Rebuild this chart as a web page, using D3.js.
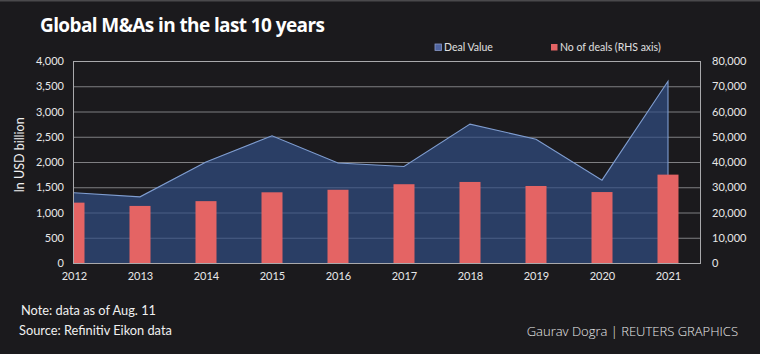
<!DOCTYPE html>
<html>
<head>
<meta charset="utf-8">
<script src="https://cdn.jsdelivr.net/npm/d3@7"></script>
<style>
html,body{margin:0;padding:0;background:#1b1a1d;}
svg{display:block;}
</style>
</head>
<body>
<svg id="chart" width="760" height="354"></svg>
<script>
const years = ["2012","2013","2014","2015","2016","2017","2018","2019","2020","2021"];
const dealValue = [1390, 1310, 2000, 2520, 1980, 1910, 2750, 2450, 1640, 3600];
const dealCount = [23900, 22600, 24500, 28000, 29000, 31200, 32100, 30500, 28100, 35000];
const leftTicks = [0, 500, 1000, 1500, 2000, 2500, 3000, 3500, 4000];
const rightTicks = [0, 10000, 20000, 30000, 40000, 50000, 60000, 70000, 80000];

const W = 760, H = 354;
const plot = {left: 73, right: 701, top: 61, bottom: 263};
const svg = d3.select("#chart");
const fontBody = "Lato, 'Open Sans', sans-serif";

svg.append("rect").attr("width", W).attr("height", H).attr("fill", "#1b1a1d");
svg.append("rect").attr("width", W).attr("height", 1.5).attr("fill", "#4a494c");

const x = d3.scalePoint().domain(years).range([74, 668]);
const yL = d3.scaleLinear().domain([0, 4000]).range([plot.bottom, plot.top]);
const yR = d3.scaleLinear().domain([0, 80000]).range([plot.bottom, plot.top]);

svg.append("defs").append("clipPath").attr("id", "clip")
  .append("rect").attr("x", plot.left).attr("y", plot.top)
  .attr("width", plot.right - plot.left).attr("height", plot.bottom - plot.top);

// gridlines
svg.append("g").selectAll("line").data(leftTicks).join("line")
  .attr("x1", plot.left).attr("x2", plot.right)
  .attr("y1", d => yL(d) + 0.5).attr("y2", d => yL(d) + 0.5)
  .attr("stroke", "#7f7f82").attr("stroke-width", 1.2);

const data = years.map((y, i) => ({year: y, v: dealValue[i], n: dealCount[i]}));

const g = svg.append("g").attr("clip-path", "url(#clip)");

// area
const area = d3.area().x(d => x(d.year)).y0(yL(0)).y1(d => yL(d.v));
g.append("path").datum(data).attr("d", area)
  .attr("fill", "#324f87").attr("fill-opacity", 0.68);

// line on top + right edge
const line = d3.line().x(d => x(d.year)).y(d => yL(d.v));
const last = data[data.length - 1];
g.append("path").datum(data)
  .attr("d", line(data) + "L" + x(last.year) + "," + yL(0))
  .attr("fill", "none").attr("stroke", "#7f9dd0").attr("stroke-width", 1.1);

// bars
const bw = 21;
g.selectAll("rect.bar").data(data).join("rect").attr("class", "bar")
  .attr("x", d => x(d.year) - bw / 2).attr("width", bw)
  .attr("y", d => yR(d.n)).attr("height", d => yR(0) - yR(d.n))
  .attr("fill", "#e46464");

// plot border
svg.append("rect").attr("x", plot.left + 0.5).attr("y", plot.top + 0.5)
  .attr("width", plot.right - plot.left - 1).attr("height", plot.bottom - plot.top)
  .attr("fill", "none").attr("stroke", "#a9a9ac").attr("stroke-width", 1);

// axes
const fmt = d3.format(",");
const axL = svg.append("g").attr("transform", `translate(${plot.left},0)`)
  .call(d3.axisLeft(yL).tickValues(leftTicks).tickFormat(fmt).tickSize(0).tickPadding(9));
const axR = svg.append("g").attr("transform", `translate(${plot.right},0)`)
  .call(d3.axisRight(yR).tickValues(rightTicks).tickFormat(fmt).tickSize(0).tickPadding(11));
const axB = svg.append("g").attr("transform", `translate(0,${plot.bottom})`)
  .call(d3.axisBottom(x).tickSize(0).tickPadding(9));
[axL, axR, axB].forEach(a => {
  a.select(".domain").remove();
  a.selectAll("text").attr("fill", "#e8e8e8").attr("font-family", fontBody).attr("font-size", 11);
});

// y axis title
svg.append("text").attr("transform", "translate(24,155) rotate(-90)")
  .attr("text-anchor", "middle").attr("fill", "#f0f0f0")
  .attr("font-family", fontBody).attr("font-size", 12.5).text("In USD billion");

// title
svg.append("text").attr("x", 40).attr("y", 32)
  .attr("fill", "#ffffff").attr("font-family", "'Open Sans', sans-serif")
  .attr("font-weight", 700).attr("font-size", 19).attr("letter-spacing", -0.6)
  .text("Global M&As in the last 10 years");

// legend
const legend = [
  {label: "Deal Value", color: "#4f64a0", x: 435},
  {label: "No of deals (RHS axis)", color: "#e46464", x: 551}
];
const lg = svg.append("g").selectAll("g").data(legend).join("g")
  .attr("transform", d => `translate(${d.x},44)`);
lg.append("rect").attr("width", 6.5).attr("height", 6.5).attr("fill", d => d.color)
  .attr("stroke", d => d.label === "Deal Value" ? "#8a9ac8" : "none").attr("stroke-width", 0.8);
lg.append("text").attr("x", 9).attr("y", 6.5).attr("fill", "#e0e0e0")
  .attr("font-family", fontBody).attr("font-size", 10.5).text(d => d.label);

// footer notes
svg.append("text").attr("x", 21).attr("y", 315).attr("fill", "#f0f0f0")
  .attr("font-family", fontBody).attr("font-size", 12.8).text("Note: data as of Aug. 11");
svg.append("text").attr("x", 19).attr("y", 335).attr("fill", "#f0f0f0")
  .attr("font-family", fontBody).attr("font-size", 12.8).text("Source: Refinitiv Eikon data");
svg.append("text").attr("x", 738).attr("y", 336).attr("text-anchor", "end").attr("fill", "#e8e8e8")
  .attr("font-family", "'Open Sans', sans-serif").attr("font-weight", 300).attr("font-size", 13)
  .attr("letter-spacing", 0)
  .text("Gaurav Dogra | REUTERS GRAPHICS");
</script>
</body>
</html>
